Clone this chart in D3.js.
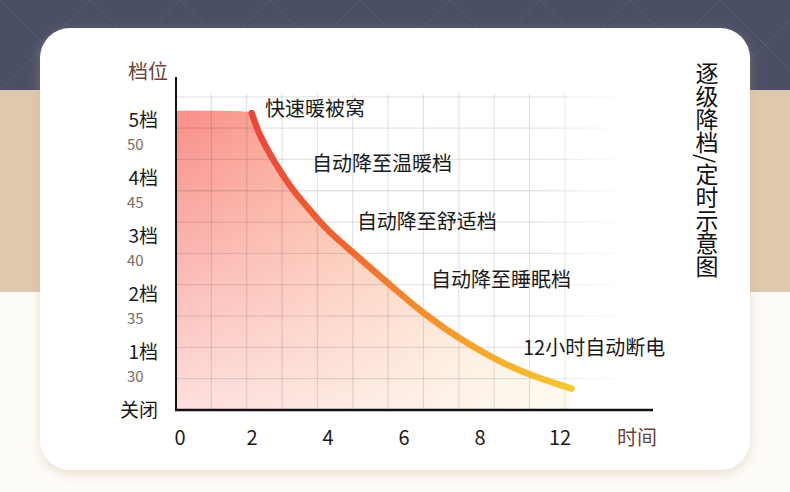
<!DOCTYPE html>
<html>
<head>
<meta charset="utf-8">
<script src="https://cdn.jsdelivr.net/npm/d3@7"></script>
<style>
  html, body { margin: 0; padding: 0; background: #fdfbf8; }
  svg { display: block; font-family: "Noto Sans CJK SC", "Noto Sans", sans-serif; }
</style>
</head>
<body>
<svg id="chart"></svg>
<script>
// chart data
let plateauHours = [0, 1.9];
let plateauLevel = [5.16, 5.16];
let curveHours = [1.99, 2.21, 2.56, 3.00, 3.44, 3.97, 4.58, 5.19, 5.89, 6.51, 7.12, 7.82, 8.53, 9.32, 10.41];
let curveLevel = [5.12, 4.71, 4.31, 3.85, 3.51, 3.10, 2.76, 2.41, 2.01, 1.67, 1.38, 1.09, 0.83, 0.60, 0.37];

let levelTicks = [5, 4, 3, 2, 1, 0];
let levelLabels = ["5档", "4档", "3档", "2档", "1档", "关闭"];
let tempLabels = ["50", "45", "40", "35", "30", ""];
let hourTicks = [0, 2, 4, 6, 8, 10];
let hourLabels = ["0", "2", "4", "6", "8", "12"];

let noteText = ["快速暖被窝", "自动降至温暖档", "自动降至舒适档", "自动降至睡眠档", "12小时自动断电"];
let noteHour = [2.34, 3.58, 4.76, 6.71, 9.13];
let noteLevel = [5.22, 4.26, 3.26, 2.26, 1.1];

let width = 790;
let height = 492;

let svg = d3.select("#chart")
    .attr("width", width)
    .attr("height", height);

let defs = svg.append("defs");

// background bands
svg.append("rect").attr("width", width).attr("height", 90).attr("fill", "#4b4f66");
svg.append("rect").attr("y", 90).attr("width", width).attr("height", 202).attr("fill", "#dfc8ae");
svg.append("rect").attr("y", 292).attr("width", width).attr("height", 200).attr("fill", "#fdfbf8");

// faint quilting on the dark band
let quilt = svg.append("g").attr("stroke", "#626780").attr("stroke-width", 1).attr("opacity", 0.5);
d3.range(-4, 12).forEach(i => {
    quilt.append("line").attr("x1", i * 90).attr("y1", 0).attr("x2", i * 90 + 90).attr("y2", 90);
    quilt.append("line").attr("x1", i * 90 + 90).attr("y1", 0).attr("x2", i * 90).attr("y2", 90);
});

// card shadow
let shadow = defs.append("filter").attr("id", "shadow")
    .attr("x", "-10%").attr("y", "-10%").attr("width", "120%").attr("height", "125%");
shadow.append("feDropShadow")
    .attr("dx", 0).attr("dy", 4)
    .attr("stdDeviation", 6)
    .attr("flood-color", "#c9a77f")
    .attr("flood-opacity", 0.35);

svg.append("rect")
    .attr("x", 40).attr("y", 28)
    .attr("width", 710).attr("height", 442)
    .attr("rx", 30)
    .attr("fill", "#ffffff")
    .attr("filter", "url(#shadow)");

// scales
let x = d3.scaleLinear().domain([0, 10]).range([176, 556]);
let y = d3.scaleLinear().domain([0, 5]).range([410, 120]);

// area fill: pink on the left to pale yellow on the right, fading to white downwards
let fillGrad = defs.append("linearGradient").attr("id", "fillGrad")
    .attr("gradientUnits", "userSpaceOnUse")
    .attr("x1", x(0)).attr("y1", 0).attr("x2", x(10.4)).attr("y2", 0);
[["0%", "#f98e88"], ["40%", "#fbb39c"], ["70%", "#fcd6b6"], ["100%", "#fdefd0"]]
    .forEach(s => fillGrad.append("stop").attr("offset", s[0]).attr("stop-color", s[1]));

let fadeGrad = defs.append("linearGradient").attr("id", "fadeGrad")
    .attr("gradientUnits", "userSpaceOnUse")
    .attr("x1", 0).attr("y1", y(5.16)).attr("x2", 0).attr("y2", y(0));
fadeGrad.append("stop").attr("offset", "0%").attr("stop-color", "#fff").attr("stop-opacity", 0);
fadeGrad.append("stop").attr("offset", "100%").attr("stop-color", "#fff").attr("stop-opacity", 0.72);

// stroke gradient
let lineGrad = defs.append("linearGradient").attr("id", "lineGrad")
    .attr("gradientUnits", "userSpaceOnUse")
    .attr("x1", x(curveHours[0])).attr("y1", 0)
    .attr("x2", x(curveHours[curveHours.length - 1])).attr("y2", 0);
[["0%", "#ea4639"], ["25%", "#f0612f"], ["50%", "#f5892c"], ["75%", "#f5ab2c"], ["100%", "#f3c931"]]
    .forEach(s => lineGrad.append("stop").attr("offset", s[0]).attr("stop-color", s[1]));

// points for area and curve
let plateau = plateauHours.map((h, i) => [h, plateauLevel[i]]);
let curve = curveHours.map((h, i) => [h, curveLevel[i]]);
let areaPoints = [plateau[0]].concat(plateau, curve);

let area = d3.area()
    .x(d => x(d[0]))
    .y0(y(0))
    .y1(d => y(d[1]))
    .curve(d3.curveBasis);

svg.append("path").datum(areaPoints).attr("d", area).attr("fill", "url(#fillGrad)");
svg.append("path").datum(areaPoints).attr("d", area).attr("fill", "url(#fadeGrad)");

// grid with a fade to the right
let gridMaskGrad = defs.append("linearGradient").attr("id", "gridMaskGrad")
    .attr("gradientUnits", "userSpaceOnUse")
    .attr("x1", 540).attr("y1", 0).attr("x2", 630).attr("y2", 0);
gridMaskGrad.append("stop").attr("offset", "0%").attr("stop-color", "#fff");
gridMaskGrad.append("stop").attr("offset", "100%").attr("stop-color", "#000");
defs.append("mask").attr("id", "gridMask")
    .append("rect").attr("x", 0).attr("y", 0).attr("width", width).attr("height", height)
    .attr("fill", "url(#gridMaskGrad)");

let grid = svg.append("g")
    .attr("mask", "url(#gridMask)")
    .attr("stroke", "#000")
    .attr("stroke-opacity", 0.1)
    .attr("stroke-width", 1.3);

let cellW = (x(10) - x(0)) / 10.75;
let cellH = (y(0) - y(5.4)) / 10;
grid.selectAll(".v").data(d3.range(1, 12)).enter().append("line")
    .attr("x1", d => x(0) + d * cellW).attr("x2", d => x(0) + d * cellW)
    .attr("y1", y(0) - 10 * cellH - 3).attr("y2", y(0));
grid.selectAll(".h").data(d3.range(1, 11)).enter().append("line")
    .attr("x1", x(0)).attr("x2", 640)
    .attr("y1", d => y(0) - d * cellH).attr("y2", d => y(0) - d * cellH);

// curve stroke
let line = d3.line()
    .x(d => x(d[0]))
    .y(d => y(d[1]))
    .curve(d3.curveBasis);

svg.append("path").datum(curve)
    .attr("d", line)
    .attr("fill", "none")
    .attr("stroke", "url(#lineGrad)")
    .attr("stroke-width", 6.5)
    .attr("stroke-linecap", "round");

// axes
svg.append("line")
    .attr("x1", x(0)).attr("x2", x(0))
    .attr("y1", 77).attr("y2", y(0) + 1)
    .attr("stroke", "#111").attr("stroke-width", 2);
svg.append("line")
    .attr("x1", x(0) - 1).attr("x2", 653)
    .attr("y1", y(0)).attr("y2", y(0))
    .attr("stroke", "#111").attr("stroke-width", 2.5);

// y labels
svg.selectAll(".lvl").data(levelTicks).enter().append("text")
    .attr("x", 158)
    .attr("y", d => y(d) - 2)
    .attr("text-anchor", "end")
    .attr("dominant-baseline", "central")
    .attr("font-size", 19)
    .attr("fill", "#1a1a1a")
    .text((d, i) => levelLabels[i]);

svg.selectAll(".temp").data(levelTicks).enter().append("text")
    .attr("x", 127)
    .attr("y", d => y(d) + 23)
    .attr("dominant-baseline", "central")
    .attr("font-size", 15)
    .attr("fill", "#7b6a60")
    .text((d, i) => tempLabels[i]);

svg.append("text")
    .attr("x", 148).attr("y", 70)
    .attr("text-anchor", "middle")
    .attr("dominant-baseline", "central")
    .attr("font-size", 20)
    .attr("fill", "#6b4535")
    .text("档位");

// x labels
svg.selectAll(".hr").data(hourTicks).enter().append("text")
    .attr("x", (d, i) => x(d) + (i === 0 ? 4 : (i === hourTicks.length - 1 ? 4 : 0)))
    .attr("y", 436)
    .attr("text-anchor", "middle")
    .attr("dominant-baseline", "central")
    .attr("font-size", 20)
    .attr("fill", "#1a1a1a")
    .text((d, i) => hourLabels[i]);

svg.append("text")
    .attr("x", 637).attr("y", 436)
    .attr("text-anchor", "middle")
    .attr("dominant-baseline", "central")
    .attr("font-size", 20)
    .attr("fill", "#6b4535")
    .text("时间");

// annotations
svg.selectAll(".note").data(noteText).enter().append("text")
    .attr("x", (d, i) => x(noteHour[i]))
    .attr("y", (d, i) => y(noteLevel[i]))
    .attr("dominant-baseline", "central")
    .attr("font-size", 20)
    .attr("fill", "#1a1a1a")
    .text(d => d);

// vertical title
svg.append("text")
    .attr("x", 707).attr("y", 62)
    .style("writing-mode", "vertical-rl")
    .attr("font-size", 23)
    .attr("fill", "#111")
    .text("逐级降档/定时示意图");
</script>
</body>
</html>
